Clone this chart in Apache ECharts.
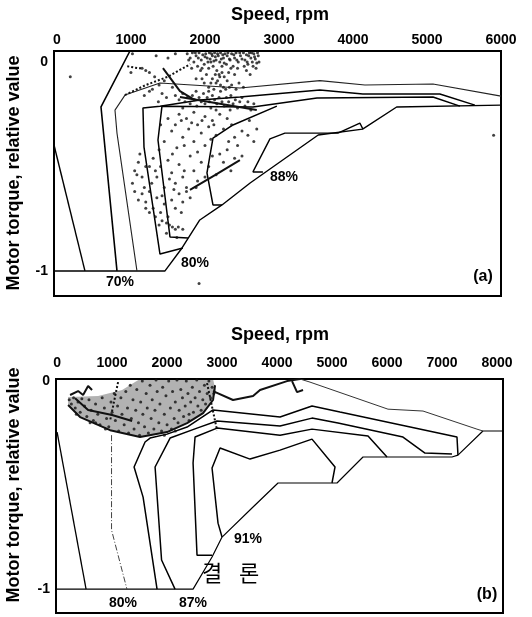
<!DOCTYPE html>
<html>
<head>
<meta charset="utf-8">
<script src="https://cdn.jsdelivr.net/npm/echarts@6/dist/echarts.min.js"></script>
<style>
  html, body { margin: 0; padding: 0; background: #fff; }
  #main { width: 532px; height: 617px; }
</style>
</head>
<body>
<div id="main"></div>
<script>
// tick labels
var speedTicksA = [0, 1000, 2000, 3000, 4000, 5000, 6000];
var speedTicksB = [0, 1000, 2000, 3000, 4000, 5000, 6000, 7000, 8000];
var torqueTicks = [0, -1];

// ---- panel (a): efficiency contours [rpm, relative torque]
var maxTorqueA = [[-40,-1],[1460,-1],[1690,-0.89],[1930,-0.756],[2230,-0.684],[2610,-0.579],[3530,-0.349],[4130,-0.321],[4590,-0.215],[6000,-0.206]];
var edgeA = [[-40,-0.397],[378,-1]];
var eff70A = [[986,0.053],[595,-0.215],[811,-1]];
var eff75A = [[1081,-1],[811,-0.34],[784,-0.23],[919,-0.158],[1392,-0.1],[2472,-0.124],[3553,-0.089],[4161,-0.11],[5080,-0.105],[6000,-0.163]];
var eff80A = [[1702,-0.89],[1392,-0.919],[1176,-0.407],[1162,-0.22],[1392,-0.211],[1932,-0.182],[2472,-0.167],[3553,-0.134],[4134,-0.153],[5174,-0.153],[5647,-0.206]];
var eff85A = [[1770,-0.842],[1527,-0.837],[1365,-0.373],[1419,-0.211],[2648,-0.215],[3513,-0.172],[5080,-0.167],[5445,-0.211]];
var eff87A = [[2229,-0.684],[2108,-0.684],[2027,-0.531],[2108,-0.364],[2378,-0.301],[2972,-0.211]];
var eff88A = [[2783,-0.526],[2648,-0.526],[2878,-0.368],[3080,-0.34],[3796,-0.34],[4093,-0.292],[4134,-0.321]];

// operating points, panel (a)
var pointsA = [
  [1760,0.04],[1800,0.02],[1830,0.045],[1850,0.0],[1880,0.03],[1900,-0.02],[1920,0.045],[1950,0.01],[1970,0.035],[1990,-0.01],
  [2010,0.04],[2030,0.02],[2050,-0.03],[2060,0.045],[2080,0.0],[2100,0.03],[2110,-0.02],[2130,0.045],[2150,0.01],[2160,-0.04],
  [2180,0.03],[2200,0.0],[2210,0.045],[2230,-0.02],[2250,0.02],[2270,0.04],[2290,-0.01],[2300,0.03],[2320,-0.05],[2340,0.01],
  [2360,0.04],[2380,-0.02],[2400,0.02],[2420,0.045],[2450,0.0],[2480,0.03],[2520,0.045],[2540,0.01],[2560,0.035],[2580,-0.01],
  [2600,0.045],[2620,0.02],[2640,0.0],[2660,0.04],[2680,0.015],[2700,-0.005],[2720,0.03],[1940,-0.04],[2020,-0.06],[2070,0.015],
  [2140,0.025],[2240,0.035],[2190,-0.06],[2330,0.015],[2440,-0.03],[2560,-0.04],[2610,-0.06],[2690,-0.03],
  [1780,0.01],[1820,-0.03],[1870,0.045],[1910,0.02],[1960,-0.03],[2000,0.025],[2040,0.0],[2090,0.04],[2120,0.005],[2170,0.04],
  [2220,0.015],[2260,-0.005],[2310,0.045],[2350,-0.03],[2390,0.035],[2430,0.01],[2470,0.045],[2500,0.015],[2530,-0.02],[2570,0.0],
  [2590,0.03],[2630,0.045],[2650,-0.02],[2670,0.025],[2710,0.045],[2730,0.0],
  [2100,-0.08],[2150,-0.1],[2200,-0.07],[2250,-0.12],[2300,-0.09],[2050,-0.12],[1990,-0.1],[2360,-0.11],[2400,-0.06],[1880,-0.08],
  [2230,-0.05],[2120,-0.13],[2280,-0.13],[2460,-0.1],[2520,-0.12],[2170,-0.09],[2260,-0.07],[2330,-0.12],[2080,-0.1],[1960,-0.08],
  [2420,-0.13],[2210,-0.11],[2140,-0.06],
  [1000,-0.05],[1150,-0.03],[1200,-0.04],[1250,-0.05],[1340,0.03],[1500,0.02],[1600,0.04],[1020,0.04],[1320,-0.07],[1380,-0.11],
  [1450,-0.09],[1290,-0.13],[1560,-0.12],[1420,-0.15],[1480,-0.17],[1370,-0.19],[1250,-0.14],[1180,-0.16],
  [1600,-0.16],[1650,-0.18],[1700,-0.15],[1730,-0.19],[1760,-0.17],[1800,-0.2],[1830,-0.16],[1860,-0.18],[1890,-0.21],[1920,-0.17],
  [1950,-0.19],[1980,-0.15],[2000,-0.2],[2030,-0.17],[2060,-0.19],[2080,-0.22],[2100,-0.16],[2130,-0.18],[2160,-0.2],[2190,-0.17],
  [2210,-0.14],[2230,-0.19],[2260,-0.21],[2290,-0.17],[2320,-0.19],[2350,-0.16],[2380,-0.2],[2410,-0.18],[2440,-0.22],[2470,-0.19],
  [2500,-0.17],[2540,-0.21],[2580,-0.19],[2620,-0.23],[2660,-0.2],[2050,-0.14],[1880,-0.14],[2150,-0.23],[1700,-0.22],[2340,-0.23],
  [1650,-0.25],[1750,-0.27],[1850,-0.24],[1900,-0.3],[2000,-0.26],[2100,-0.28],[2200,-0.25],[2300,-0.27],[1780,-0.32],[1950,-0.34],
  [2050,-0.31],[2150,-0.35],[1600,-0.3],[1700,-0.36],[1550,-0.33],[1850,-0.38],[2000,-0.4],[2250,-0.32],[2400,-0.36],[2500,-0.33],
  [2580,-0.35],[2700,-0.32],[2660,-0.38],[2440,-0.4],[2300,-0.42],[2200,-0.44],[1500,-0.27],[1450,-0.38],[1400,-0.3],[1620,-0.41],
  [1680,-0.28],[1820,-0.29],[1960,-0.28],[2120,-0.3],[2360,-0.3],[2600,-0.28],[1720,-0.4],[1900,-0.43],[2080,-0.37],[2320,-0.38],
  [1050,-0.52],[1100,-0.48],[1150,-0.55],[1020,-0.58],[1180,-0.6],[1250,-0.5],[1300,-0.46],[1350,-0.55],[1400,-0.5],[1450,-0.6],
  [1500,-0.47],[1550,-0.53],[1600,-0.58],[1650,-0.49],[1700,-0.55],[1750,-0.6],[1800,-0.45],[1850,-0.52],[1900,-0.57],[1950,-0.48],
  [2050,-0.5],[2100,-0.45],[2150,-0.54],[2250,-0.48],[2350,-0.52],[2400,-0.46],[2500,-0.45],[1120,-0.44],[1380,-0.42],[1280,-0.58],
  [1560,-0.44],[1200,-0.5],[1080,-0.54],[1330,-0.52],[1520,-0.56],[1720,-0.52],[1880,-0.6],[2000,-0.55],
  [1150,-0.63],[1200,-0.67],[1250,-0.62],[1300,-0.7],[1350,-0.65],[1400,-0.72],[1450,-0.68],[1500,-0.74],[1550,-0.66],[1600,-0.7],
  [1650,-0.63],[1700,-0.67],[1750,-0.62],[1480,-0.77],[1520,-0.78],[1560,-0.79],[1600,-0.8],[1640,-0.79],[1420,-0.76],[1330,-0.74],
  [1800,-0.65],[1250,-0.72],[1420,-0.64],[1580,-0.61],[1680,-0.72],[1380,-0.78],[1480,-0.82],[1620,-0.84],[1700,-0.8],[1200,-0.7],
  [1100,-0.66],[1050,-0.62],[1920,-1.06],[5900,-0.35],[180,-0.07]
];
var tracesA = [
  [[1432,-0.029],[1662,-0.139],[1864,-0.182]],
  [[1797,-0.612],[2135,-0.541],[2472,-0.469]],
  [[1662,-0.167],[2700,-0.23]]
];
var dottedA = [
  [[919,-0.158],[1200,-0.11],[1500,-0.07],[1800,-0.01]],
  [[950,-0.02],[1100,-0.03],[1160,-0.03]]
];

// ---- panel (b)
var maxTorqueB = [[-20,-1],[2473,-1],[2818,-0.846],[3000,-0.75],[3545,-0.61],[4018,-0.49],[5091,-0.49],[5564,-0.365],[7182,-0.365],[7291,-0.356],[7745,-0.24],[8110,-0.24]];
var edgeB = [[0,-0.245],[527,-1]];
var eff80B = [[990,-0.26],[990,-0.716],[1270,-1]];
var eff84B = [[1818,-1],[1564,-0.558],[1400,-0.413],[1600,-0.293],[1691,-0.274],[2000,-0.255],[2364,-0.221],[2836,-0.139],[4055,-0.173],[4636,-0.12],[5145,-0.149],[7273,-0.269],[7291,-0.356]];
var eff87B = [[2145,-1],[1900,-0.86],[1782,-0.413],[2055,-0.274],[2545,-0.226],[2909,-0.192],[4055,-0.216],[4636,-0.178],[5109,-0.202],[6291,-0.269],[6691,-0.346],[7182,-0.351]];
var eff89B = [[2818,-0.837],[2545,-0.837],[2473,-0.394],[2509,-0.269],[2909,-0.226],[4055,-0.26],[4636,-0.231],[5655,-0.264],[6000,-0.365]];
var eff91B = [[3000,-0.75],[2927,-0.683],[2818,-0.418],[2964,-0.322],[3509,-0.375],[4055,-0.332],[4636,-0.279],[5055,-0.413],[5000,-0.49]];
var eff75B = [[4418,0.01],[4600,-0.005],[6018,-0.135],[6655,-0.144],[7636,-0.231],[7745,-0.24]];

var cloudB = [[200,-0.077],[745,-0.072],[1182,-0.043],[1418,-0.005],[1509,0.01],[2836,0.01],[2891,-0.053],[2782,-0.115],[2655,-0.154],[2364,-0.202],[2000,-0.245],[1509,-0.269],[964,-0.236],[418,-0.173],[200,-0.115]];
var pointsB = [
  [220,-0.09],[260,-0.11],[300,-0.08],[330,-0.13],[380,-0.1],[420,-0.15],[450,-0.085],[500,-0.12],[540,-0.17],[580,-0.09],
  [620,-0.14],[660,-0.19],[700,-0.11],[740,-0.16],[780,-0.21],[820,-0.08],[860,-0.13],[900,-0.18],[940,-0.22],[980,-0.1],
  [1000,-0.15],[350,-0.16],[600,-0.2],[700,-0.2],[880,-0.23],
  [1040,-0.06],[1060,-0.19],[1100,-0.12],[1120,-0.24],[1160,-0.08],[1180,-0.16],[1220,-0.21],[1250,-0.05],[1280,-0.13],[1300,-0.25],
  [1330,-0.02],[1350,-0.18],[1380,-0.09],[1400,-0.23],[1430,-0.14],[1450,-0.04],[1480,-0.2],[1500,-0.26],[1520,-0.1],[1550,0.0],
  [1560,-0.16],[1590,-0.22],[1620,-0.06],[1640,-0.13],[1660,-0.25],[1690,-0.02],[1710,-0.18],[1730,-0.09],[1760,-0.23],[1780,-0.14],
  [1800,0.005],[1820,-0.05],[1850,-0.2],
  [1870,-0.11],[1900,-0.24],[1920,-0.03],[1950,-0.16],[1980,-0.07],[2000,-0.21],[2030,0.0],[2060,-0.13],[2080,-0.23],[2100,-0.05],
  [2130,-0.18],[2150,-0.1],[2180,0.005],[2200,-0.2],[2220,-0.14],[2250,-0.04],[2280,-0.08],[2300,-0.17],[2330,-0.12],[2350,0.0],
  [2380,-0.06],[2400,-0.19],[2430,-0.1],[2460,-0.03],[2480,-0.15],[2510,-0.08],[2540,0.005],[2560,-0.12],[2590,-0.05],[2620,-0.14],
  [2650,-0.09],[2680,-0.02],[2700,-0.11],[2730,-0.06],[2760,0.0],[2790,-0.08],[2820,-0.03],[2850,-0.06],[1950,-0.26],[2150,-0.24],
  [2400,-0.16]
];
var tracesB = [
  [[200,-0.115],[418,-0.173],[964,-0.236],[1509,-0.269],[2000,-0.245],[2364,-0.202],[2655,-0.154],[2836,-0.091],[2873,-0.02]],
  [[327,-0.082],[564,-0.139],[1000,-0.163],[1364,-0.192]],
  [[236,-0.067],[382,-0.048],[473,-0.067],[564,-0.024],[636,-0.043]],
  [[2836,-0.048],[3200,-0.091],[3564,-0.072],[3691,-0.043],[4182,0.0],[4418,0.01]],
  [[4273,0.0],[4364,-0.053],[4473,-0.043]]
];
var dottedB = [
  [[1109,-0.005],[964,-0.19]],
  [[2727,-0.01],[2909,-0.236]]
];

var FONT = 'Liberation Sans, Arial, sans-serif';

function contour(data, axis, width, color, type) {
  return {
    type: 'line', xAxisIndex: axis, yAxisIndex: axis, data: data,
    symbol: 'none', silent: true, z: 3,
    lineStyle: { color: color || '#000', width: width || 1.3, type: type || 'solid' }
  };
}

var series = [
  { type: 'custom', xAxisIndex: 1, yAxisIndex: 1, data: [cloudB[0]], silent: true, z: 1,
    renderItem: function (params, api) {
      var pts = cloudB.map(function (p) { return api.coord(p); });
      return { type: 'polygon', shape: { points: pts }, style: { fill: 'rgba(0,0,0,0.3)', stroke: 'none' } };
    } },
  contour(maxTorqueA, 0, 1.4), contour(edgeA, 0, 1.4), contour(eff70A, 0, 1.6),
  contour(eff75A, 0, 1.1, '#222'), contour(eff80A, 0, 1.5), contour(eff85A, 0, 1.5),
  contour(eff87A, 0, 1.5), contour(eff88A, 0, 1.4),
  contour(maxTorqueB, 1, 1.2), contour(edgeB, 1, 1.3), contour(eff80B, 1, 1, '#444', [6, 2, 1, 2]),
  contour(eff84B, 1, 1.5), contour(eff87B, 1, 1.5), contour(eff89B, 1, 1.5),
  contour(eff91B, 1, 1.5), contour(eff75B, 1, 1, '#333'),
  { type: 'scatter', xAxisIndex: 0, yAxisIndex: 0, data: pointsA, symbolSize: 3, silent: true, z: 4,
    itemStyle: { color: '#111' } },
  { type: 'scatter', xAxisIndex: 1, yAxisIndex: 1, data: pointsB, symbolSize: 3, silent: true, z: 4,
    itemStyle: { color: '#111' } }
];
tracesA.forEach(function (t) { series.push(contour(t, 0, 2, '#111')); });
dottedA.forEach(function (t) { series.push(contour(t, 0, 2, '#111', 'dotted')); });
tracesB.forEach(function (t) { series.push(contour(t, 1, 2, '#111')); });
dottedB.forEach(function (t) { series.push(contour(t, 1, 2, '#111', 'dotted')); });

function speedAxis(idx, min, max, ticks, margin) {
  return {
    gridIndex: idx, type: 'value', position: 'top', min: min, max: max,
    axisLine: { show: false }, axisTick: { show: false }, splitLine: { show: false },
    axisLabel: { customValues: ticks, margin: margin, color: '#000', fontWeight: 'bold', fontSize: 14, fontFamily: FONT,
      formatter: function (v) { return String(v); } }
  };
}
function torqueAxis(idx, min, max) {
  return {
    gridIndex: idx, type: 'value', min: min, max: max,
    axisLine: { show: false }, axisTick: { show: false }, splitLine: { show: false },
    axisLabel: { customValues: torqueTicks, margin: 6, color: '#000', fontWeight: 'bold', fontSize: 14, fontFamily: FONT,
      formatter: function (v) { return String(v); } }
  };
}

function txt(x, y, text, size, opts) {
  opts = opts || {};
  return {
    type: 'text', x: x, y: y, rotation: opts.rot || 0, z: 10,
    style: { text: text, fill: '#000', font: (opts.weight || 'bold') + ' ' + size + 'px ' + (opts.family || FONT),
      textAlign: 'center', textVerticalAlign: 'middle' }
  };
}

var chart = echarts.init(document.getElementById('main'), null, { renderer: 'canvas' });
chart.setOption({
  animation: false,
  backgroundColor: '#fff',
  grid: [
    { left: 54, top: 51, width: 447, height: 245, show: true, borderColor: '#000', borderWidth: 2 },
    { left: 56, top: 379, width: 447, height: 234, show: true, borderColor: '#000', borderWidth: 2 }
  ],
  xAxis: [speedAxis(0, -40, 6000, speedTicksA, 4), speedAxis(1, -20, 8110, speedTicksB, 9)],
  yAxis: [torqueAxis(0, -1.12, 0.053), torqueAxis(1, -1.115, 0.01)],
  graphic: [
    txt(280, 15, 'Speed, rpm', 18),
    txt(280, 335, 'Speed, rpm', 18),
    txt(14, 173, 'Motor torque, relative value', 18, { rot: Math.PI / 2 }),
    txt(14, 485, 'Motor torque, relative value', 18, { rot: Math.PI / 2 }),
    txt(120, 282, '70%', 14), txt(195, 263, '80%', 14), txt(284, 177, '88%', 14),
    txt(483, 277, '(a)', 16),
    txt(248, 539, '91%', 14), txt(123, 603, '80%', 14), txt(193, 603, '87%', 14),
    txt(487, 595, '(b)', 16),
    txt(212, 573, '결', 22, { weight: 'normal', family: 'Noto Sans CJK KR' }),
    txt(249, 573, '론', 22, { weight: 'normal', family: 'Noto Sans CJK KR' })
  ],
  series: series
});
</script>
</body>
</html>
